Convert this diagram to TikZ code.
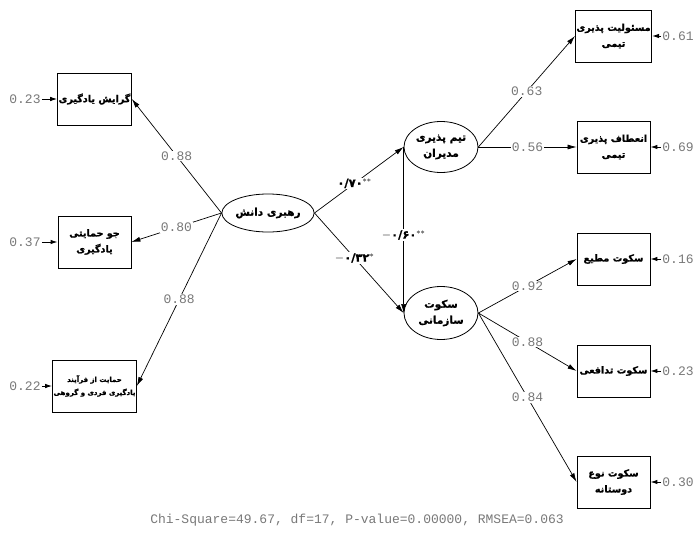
\documentclass[tikz,border=0pt]{standalone}
\usepackage{fontspec}
\setmonofont{Liberation Mono}
\newfontfamily\fa[Script=Arabic, BoldFont={DejaVu Sans Bold}, BoldFeatures={FakeBold=1.2}]{DejaVu Sans}
\TeXXeTstate=1
\usetikzlibrary{shapes.geometric, arrows.meta, positioning}
\definecolor{numgray}{RGB}{120,120,120}

\newcommand{\rtl}[1]{\beginR #1\endR}

\begin{document}
\begin{tikzpicture}[x=1pt, y=-1pt,
  obs/.style={draw, line width=0.8pt, minimum width=73pt, minimum height=52pt, align=center, inner sep=1pt, font=\fa\bfseries\fontsize{9.6}{16}\selectfont},
  lat/.style={draw, ellipse, line width=0.8pt, minimum width=74pt, minimum height=51pt, align=center, inner sep=0pt, font=\fa\bfseries\fontsize{10.5}{16}\selectfont},
  arr/.style={-{Latex[length=9pt, width=5pt]}, line width=0.7pt},
  errarr/.style={-{Latex[length=7pt, width=4.5pt]}, line width=1pt},
  coef/.style={fill=white, text=numgray, inner sep=1pt, font=\ttfamily\fontsize{13}{14}\selectfont},
  pcoef/.style={fill=white, inner sep=1pt, font=\fa\bfseries\fontsize{11.5}{12}\selectfont},
  err/.style={text=numgray, inner sep=1pt, font=\ttfamily\fontsize{13}{14}\selectfont},
]
  \useasboundingbox (0,0) rectangle (697,533);

  % latent variables
  \node[lat, minimum height=38pt] (know) at (268,213) {\rtl{رهبری دانش}};
  \node[lat] (team) at (441,147) {\rtl{تیم پذیری}\\\rtl{مدیران}};
  \node[lat, minimum height=53pt] (silence) at (441,313) {\rtl{سکوت}\\\rtl{سازمانی}};

  % indicators, left
  \node[obs] (learn) at (94.5,99) {\rtl{گرایش یادگیری}};
  \node[obs] (climate) at (94.5,242) {\rtl{جو حمایتی}\\\rtl{یادگیری}};
  \node[obs, font=\fa\bfseries\fontsize{7}{13}\selectfont] (support) at (94.5,386) {\rtl{حمایت از فرآیند}\\\rtl{یادگیری فردی و گروهی}};

  % indicators, right
  \node[obs] (resp) at (613.5,36) {\rtl{مسئولیت پذیری}\\\rtl{تیمی}};
  \node[obs] (flex) at (613.5,147) {\rtl{انعطاف پذیری}\\\rtl{تیمی}};
  \node[obs] (obey) at (613.5,259) {\rtl{سکوت مطیع}};
  \node[obs] (defend) at (613.5,371) {\rtl{سکوت تدافعی}};
  \node[obs] (altru) at (613.5,482) {\rtl{سکوت نوع}\\\rtl{دوستانه}};

  % error terms
  \node[err] (e1) at (25,99) {0.23};
  \node[err] (e2) at (25,242) {0.37};
  \node[err] (e3) at (25,386) {0.22};
  \node[err] (e4) at (678,36) {0.61};
  \node[err] (e5) at (678,147) {0.69};
  \node[err] (e6) at (678,259) {0.16};
  \node[err] (e7) at (678,371) {0.23};
  \node[err] (e8) at (678,482) {0.30};
  \foreach \e/\b in {e1/learn, e2/climate, e3/support}
    \draw[errarr] (\e.east) -- (\b.west);
  \foreach \e/\b in {e4/resp, e5/flex, e6/obey, e7/defend, e8/altru}
    \draw[errarr] (\e.west) -- (\b.east);

  % loadings
  \draw[arr] (know.west) -- node[coef] {0.88} (learn.east);
  \draw[arr] (know.west) -- node[coef] {0.80} (climate.east);
  \draw[arr] (know.west) -- node[coef] {0.88} (support.east);
  \draw[arr] (team.east) -- node[coef] {0.63} (resp.west);
  \draw[arr] (team.east) -- node[coef] {0.56} (flex.west);
  \draw[arr] (silence.east) -- node[coef] {0.92} (obey.west);
  \draw[arr] (silence.east) -- node[coef] {0.88} (defend.west);
  \draw[arr] (silence.east) -- node[coef] {0.84} (altru.west);

  % structural paths
  \draw[arr] (know.east) -- node[pcoef, pos=0.45] {۰/۷۰$^{**}$} (team.west);
  \draw[arr] (know.east) -- node[pcoef, pos=0.45] {$-$۰/۳۲$^{*}$} (silence.west);
  \draw[arr] (team.west) -- node[pcoef, pos=0.53] {$-$۰/۶۰$^{**}$} (silence.west);

  % fit indices
  \node[err] (fit) at (357,520) {Chi-Square=49.67, df=17, P-value=0.00000, RMSEA=0.063};
\end{tikzpicture}
\end{document}
